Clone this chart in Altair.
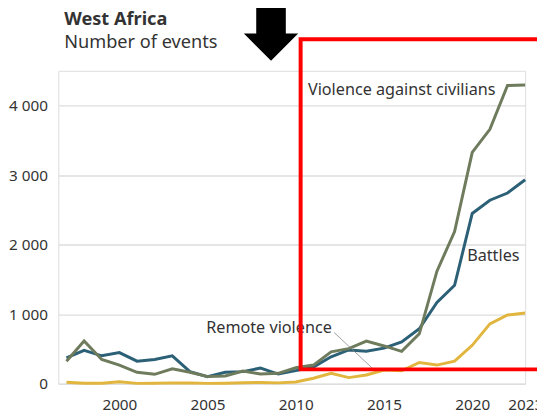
import altair as alt
import pandas as pd

years = list(range(1997, 2024))

battles = [373, 481, 401, 448, 324, 348, 400, 174, 102, 164, 174, 225, 139, 188,
           240, 387, 485, 467, 512, 600, 790, 1169, 1415, 2449, 2639, 2743, 2933]
violence_civilians = [324, 614, 348, 268, 164, 135, 215, 164, 102, 111, 182, 139, 149, 230,
                      268, 458, 505, 614, 543, 465, 718, 1619, 2188, 3326, 3659, 4289, 4295]
remote_violence = [22, 8, 8, 28, 5, 8, 12, 10, 5, 8, 15, 18, 12, 25,
                   78, 149, 88, 125, 196, 185, 306, 268, 324, 552, 860, 989, 1017]

series_names = ["Battles", "Violence against civilians", "Remote violence"]
series_colors = ["#2b6076", "#6e7b5c", "#e2b63e"]

x_ticks = [2000, 2005, 2010, 2015, 2020, 2023]
y_ticks = list(range(0, 4501, 500))

title_text = "West Africa"
subtitle_text = "Number of events"

# direct labels (text, year, value) and the leader line for "Remote violence"
label_text = ["Violence against civilians", "Battles", "Remote violence"]
label_year = [2021.32, 2022.68, 2012.04]
label_value = [4228, 1842, 800]
leader_year = [2012.17, 2014.41]
leader_value = [737, 206]

rows = []
for name, vals in zip(series_names, [battles, violence_civilians, remote_violence]):
    for y, v in zip(years, vals):
        rows.append({"year": y, "value": v, "series": name})
df = pd.DataFrame(rows)

labels_df = pd.DataFrame({"text": label_text, "year": label_year, "value": label_value})
leader_df = pd.DataFrame({"year": [leader_year[0]], "value": [leader_value[0]],
                          "year2": [leader_year[1]], "value2": [leader_value[1]]})

FONT = "Noto Sans"
TXT = "#333333"

x_scale = alt.Scale(domain=[1996.54, 2023], nice=False, zero=False)
y_scale = alt.Scale(domain=[0, 4500], nice=False)

lines = alt.Chart(df).mark_line(strokeWidth=3).encode(
    x=alt.X("year:Q", scale=x_scale, title=None,
            axis=alt.Axis(values=x_ticks, format="d", grid=False, domain=False, ticks=False,
                          labelFontSize=15.5, labelColor=TXT, labelPadding=14,
                          labelFlush=False, labelOverlap=False, labelFont=FONT)),
    y=alt.Y("value:Q", scale=y_scale, title=None,
            axis=alt.Axis(values=y_ticks,
                          labelExpr="datum.value % 1000 == 0 ? replace(format(datum.value, ','), ',', ' ') : ''",
                          grid=True, gridColor="#dedede", gridWidth=1.5,
                          domain=False, ticks=False, labelFontSize=15.5,
                          labelColor=TXT, labelPadding=11, labelFont=FONT)),
    color=alt.Color("series:N", scale=alt.Scale(domain=series_names, range=series_colors),
                    legend=None),
)

leader = alt.Chart(leader_df).mark_rule(color="#888888", strokeWidth=0.8).encode(
    x="year:Q", y="value:Q", x2="year2:Q", y2="value2:Q"
)

texts = alt.Chart(labels_df).mark_text(align="right", baseline="middle", fontSize=16.4,
                                       font=FONT, color=TXT).encode(
    x="year:Q", y="value:Q", text="text:N"
)

one = alt.Data(values=[{"a": 1}])

title_mark = alt.Chart(one).mark_text(align="left", baseline="middle", fontSize=18.4,
                                      fontWeight="bold", font=FONT, color=TXT).encode(
    x=alt.value(6), y=alt.value(-52), text=alt.value(title_text)
)
subtitle_mark = alt.Chart(one).mark_text(align="left", baseline="middle", fontSize=18.4,
                                         font=FONT, color=TXT).encode(
    x=alt.value(6), y=alt.value(-29), text=alt.value(subtitle_text)
)

frame = alt.Chart(one).mark_rect(fillOpacity=0, stroke="#ff0000", strokeWidth=4).encode(
    x=alt.value(245.5), x2=alt.value(520), y=alt.value(-32), y2=alt.value(302.5)
)
arrow_path = "M-0.545,-2 L0.545,-2 L0.545,-0.5 L1,-0.5 L0,0.5 L-1,-0.5 L-0.545,-0.5 Z"
arrow = alt.Chart(one).mark_point(shape=arrow_path, filled=True, color="#000000",
                                  opacity=1, size=3025, strokeWidth=0).encode(
    x=alt.value(215.5), y=alt.value(-24)
)

chart = alt.layer(lines, leader, texts, title_mark, subtitle_mark, frame, arrow).properties(
    width=473, height=317,
    autosize=alt.AutoSizeParams(type="none"),
    padding={"left": 51, "top": 61, "right": 12, "bottom": 27},
).configure_view(stroke=None).configure(font=FONT)

chart.save("out.html", embed_options={"renderer": "svg", "actions": False})
